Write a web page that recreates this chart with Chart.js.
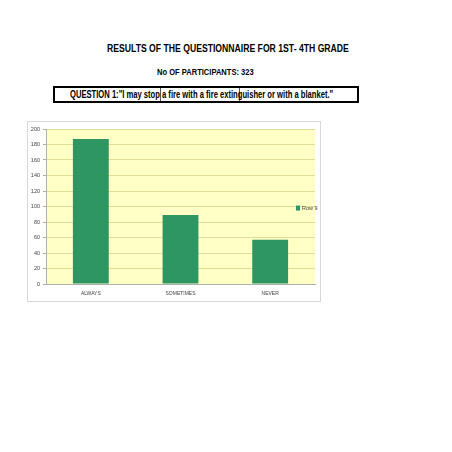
<!DOCTYPE html>
<html>
<head>
<meta charset="utf-8">
<script src="https://cdn.jsdelivr.net/npm/chart.js@4"></script>
<style>
body { margin:0; background:#fff; width:452px; height:452px; position:relative; overflow:hidden; font-family:"Liberation Sans",Arial,sans-serif; }
.fit { position:absolute; font-weight:bold; color:#000; white-space:nowrap; transform-origin:0 0; }
#t1 { top:42px; font-size:11px; }
#t2 { top:66px; font-size:9.5px; }
#qbox { position:absolute; left:53px; top:86px; width:302px; height:13px; border:2px solid #000; }
#qtext { top:0px; font-size:11px; line-height:13px; }
.cell { position:absolute; top:0; width:1px; height:13px; background:#555; }
#wrap { position:absolute; left:27px; top:121px; width:292px; height:179px; border:1px solid #d9d9d9; }
</style>
</head>
<body>
<div class="fit" id="t1" data-x="107" data-w="242">RESULTS OF THE QUESTIONNAIRE FOR 1ST- 4TH GRADE</div>
<div class="fit" id="t2" data-x="157" data-w="97">No OF PARTICIPANTS: 323</div>
<div id="qbox">
  <div class="cell" style="left:105px"></div>
  <div class="cell" style="left:184px"></div>
  <div class="fit" id="qtext" data-x="15" data-w="263">QUESTION 1:"I may stop a fire with a fire extinguisher or with a blanket."</div>
</div>
<div id="wrap"><canvas id="barChart"></canvas></div>
<script>
// encoger textos (fuente estrecha)
document.querySelectorAll('.fit').forEach(function(el) {
  var w = el.offsetWidth;
  el.style.left = el.getAttribute('data-x') + 'px';
  el.style.transform = 'scaleX(' + (el.getAttribute('data-w') / w) + ')';
});

// data
var categorias = ["ALWAYS", "SOMETIMES", "NEVER"];
var valores = [187, 89, 57];
var serie = "Row 9";
var yTicks = [0, 20, 40, 60, 80, 100, 120, 140, 160, 180, 200];

var verde = "rgb(46,150,98)";

// fondo amarillo + leyenda dentro del area
var fondo = {
  id: 'fondo',
  beforeDraw: function(chart) {
    var a = chart.chartArea, c = chart.ctx;
    c.save();
    c.fillStyle = "#ffffc6";
    c.fillRect(a.left, a.top, a.right - a.left, a.bottom - a.top);
    c.restore();
  },
  afterDraw: function(chart) {
    var a = chart.chartArea, c = chart.ctx;
    var y = a.top + (a.bottom - a.top) * 0.51;
    c.save();
    c.fillStyle = verde;
    c.fillRect(a.right - 19, y - 2.5, 4, 5);
    c.fillStyle = "#444";
    c.font = "5.5px 'Liberation Sans', sans-serif";
    c.textBaseline = "middle";
    c.fillText(chart.data.datasets[0].label, a.right - 13, y);
    c.restore();
  }
};

var ctx = document.getElementById("barChart").getContext('2d');
var myBarChart = new Chart(ctx, {
  type: 'bar',
  data: {
    labels: categorias,
    datasets: [{
      label: serie,
      data: valores,
      backgroundColor: verde,
      categoryPercentage: 0.8,
      barPercentage: 0.5
    }]
  },
  plugins: [fondo],
  options: {
    responsive: true,
    maintainAspectRatio: false,
    animation: false,
    layout: { padding: { top: 7, right: 5, bottom: 3, left: 0 } },
    plugins: {
      legend: { display: false },
      tooltip: { enabled: false }
    },
    scales: {
      x: {
        grid: { display: false, drawTicks: true, tickLength: 3 },
        border: { color: "#b0b0b0" },
        ticks: { color: "#444", font: { family: "'Liberation Sans', sans-serif", size: 5 }, padding: 4 },
        afterFit: function(s) { s.height = 14; }
      },
      y: {
        min: 0,
        max: 200,
        afterBuildTicks: function(s) { s.ticks = yTicks.map(function(v) { return { value: v }; }); },
        grid: { color: "#e2dc98", tickLength: 3, tickColor: "#b0b0b0" },
        border: { color: "#b0b0b0" },
        ticks: { color: "#444", font: { family: "'Liberation Sans', sans-serif", size: 5.5 }, padding: 3 },
        afterFit: function(s) { s.width = 18; }
      }
    }
  }
});
</script>
</body>
</html>
